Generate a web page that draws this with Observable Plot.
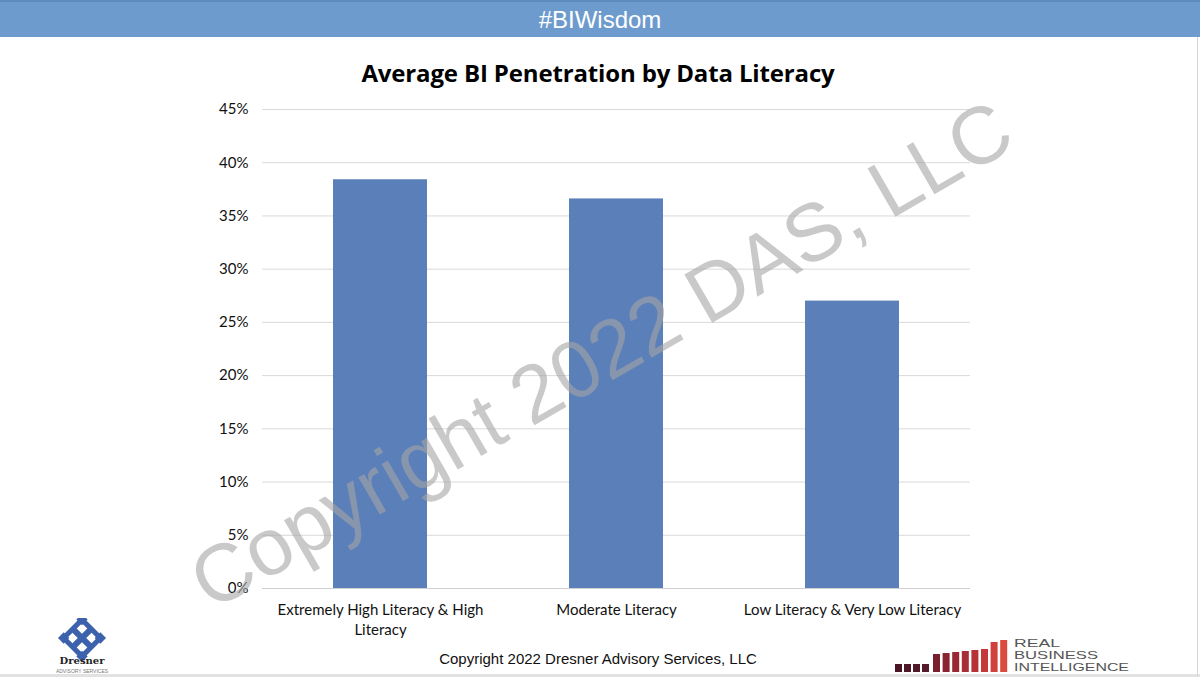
<!DOCTYPE html>
<html>
<head>
<meta charset="utf-8">
<script src="https://cdn.jsdelivr.net/npm/d3@7"></script>
<script src="https://cdn.jsdelivr.net/npm/@observablehq/plot@0.6"></script>
<style>
  html, body { margin: 0; padding: 0; background: #fff; }
  #page { position: relative; width: 1200px; height: 677px; overflow: hidden; background: #fff; }
  #banner { position: absolute; left: 0; top: 0; width: 1200px; height: 37px; background: #6e9bcd;
    border-top: 2px solid #5f8cc0; box-sizing: border-box;
    color: #fff; font-family: "Liberation Sans", Arial, sans-serif; font-size: 24px; line-height: 35px; text-align: center; }
  #title { position: absolute; left: 0; top: 56px; width: 1196px; text-align: center;
    font-family: "Open Sans", Lato, sans-serif; font-weight: 700; font-size: 24px; color: #000; letter-spacing: -0.15px; }
  #chart { position: absolute; left: 0; top: 90px; }
  #watermark { position: absolute; left: 601px; top: 355px; transform: translate(-50%, -50%) rotate(-30deg);
    font-family: "Liberation Sans", Arial, sans-serif; font-size: 81px; color: rgba(165,165,165,0.6);
    white-space: nowrap; pointer-events: none; }
  #footer { position: absolute; left: 0; top: 650px; width: 1196px; text-align: center;
    font-family: "Liberation Sans", Arial, sans-serif; font-size: 15px; color: #111; }
  #bottomline { position: absolute; left: 0; top: 674px; width: 1200px; height: 3px; background: #e2e2e2; }
  #rightline { position: absolute; left: 1197px; top: 37px; width: 1px; height: 640px; background: #d6d6d6; }
  #dresner { position: absolute; left: 52px; top: 618px; }
  #rbi { position: absolute; left: 890px; top: 636px; }
</style>
</head>
<body>
<div id="page">
  <div id="banner">#BIWisdom</div>
  <div id="title">Average BI Penetration by Data Literacy</div>
  <div id="chart"></div>
  <div id="watermark">Copyright 2022 DAS, LLC</div>
  <div id="footer">Copyright 2022 Dresner Advisory Services, LLC</div>
  <div id="bottomline"></div>
  <div id="rightline"></div>
  <svg id="dresner" width="62" height="58" viewBox="0 0 62 58">
    <g transform="translate(30,20) rotate(45)" fill="#3d62ad">
      <rect x="-13" y="-13" width="26" height="26" fill="none" stroke="#3d62ad" stroke-width="5"/>
      <rect x="-13" y="-3" width="26" height="6"/>
      <rect x="-3" y="-13" width="6" height="26"/>
      <rect x="-17" y="-17" width="8" height="8"/>
      <rect x="9" y="-17" width="8" height="8"/>
      <rect x="-17" y="9" width="8" height="8"/>
      <rect x="9" y="9" width="8" height="8"/>
    </g>
    <text x="30" y="46" text-anchor="middle" font-family="DejaVu Serif, serif" font-weight="700" font-size="10" fill="#222">Dresner</text>
    <text x="30" y="55" text-anchor="middle" font-family="Liberation Sans, sans-serif" font-size="5" fill="#777">ADVISORY SERVICES</text>
  </svg>
  <svg id="rbi" width="250" height="38" viewBox="0 0 250 38">
    <g id="rbibars"></g>
    <text x="124" y="11" font-family="Liberation Sans, sans-serif" font-size="10.5" fill="#555" textLength="46" lengthAdjust="spacingAndGlyphs">REAL</text>
    <text x="124" y="23" font-family="Liberation Sans, sans-serif" font-size="10.5" fill="#555" textLength="84" lengthAdjust="spacingAndGlyphs">BUSINESS</text>
    <text x="124" y="35" font-family="Liberation Sans, sans-serif" font-size="10.5" fill="#555" textLength="115" lengthAdjust="spacingAndGlyphs">INTELLIGENCE</text>
  </svg>
</div>
<script>
// ---- Chart data ----
const categories = ["Extremely High Literacy & High Literacy", "Moderate Literacy", "Low Literacy & Very Low Literacy"];
const tickLabels = ["Extremely High Literacy & High\nLiteracy", "Moderate Literacy", "Low Literacy & Very Low Literacy"];
const values = [0.384, 0.366, 0.270];
const yTicks = [0, 0.05, 0.10, 0.15, 0.20, 0.25, 0.30, 0.35, 0.40, 0.45];

const data = categories.map((c, i) => ({category: c, value: values[i]}));
const labelOf = new Map(categories.map((c, i) => [c, tickLabels[i]]));

const chart = Plot.plot({
  width: 1200,
  height: 560,
  marginLeft: 262,
  marginRight: 230,
  marginTop: 19,
  marginBottom: 62,
  style: {fontFamily: "Lato, 'Open Sans', sans-serif", fontSize: "15px", color: "#111", background: "transparent"},
  x: {domain: categories, paddingInner: 0.6, paddingOuter: 0.3, label: null},
  y: {domain: [0, 0.45], label: null},
  marks: [
    Plot.gridY(yTicks, {stroke: "#d9d9d9", strokeOpacity: 1}),
    Plot.barY(data, {x: "category", y: "value", fill: "#5a7fb9"}),
    Plot.ruleY([0], {stroke: "#d0d0d0", strokeWidth: 1.2}),
    Plot.axisY(yTicks, {tickSize: 0, tickPadding: 14, tickFormat: d3.format(".0%"), label: null}),
    Plot.axisX({tickSize: 0, tickPadding: 12, tickFormat: d => labelOf.get(d), lineHeight: 1.33, label: null})
  ]
});
document.getElementById("chart").appendChild(chart);

// decorative logo bars (not chart data)
const logoHeights = [8, 8, 8, 8, 18, 19, 20, 21, 22, 23, 30, 32];
const logoColors = ["#4a1626", "#4e1828", "#52192a", "#561b2b", "#7a1f2d", "#8a2430", "#992833", "#a82d35", "#b73237", "#c4383a", "#d1403c", "#db4a3e"];
const g = d3.select("#rbibars");
logoHeights.forEach((h, i) => {
  const x = i < 4 ? 5 + i * 9 : 43 + (i - 4) * 9.6;
  g.append("rect").attr("x", x).attr("y", 36 - h).attr("width", 7).attr("height", h).attr("fill", logoColors[i]);
});
</script>
</body>
</html>
